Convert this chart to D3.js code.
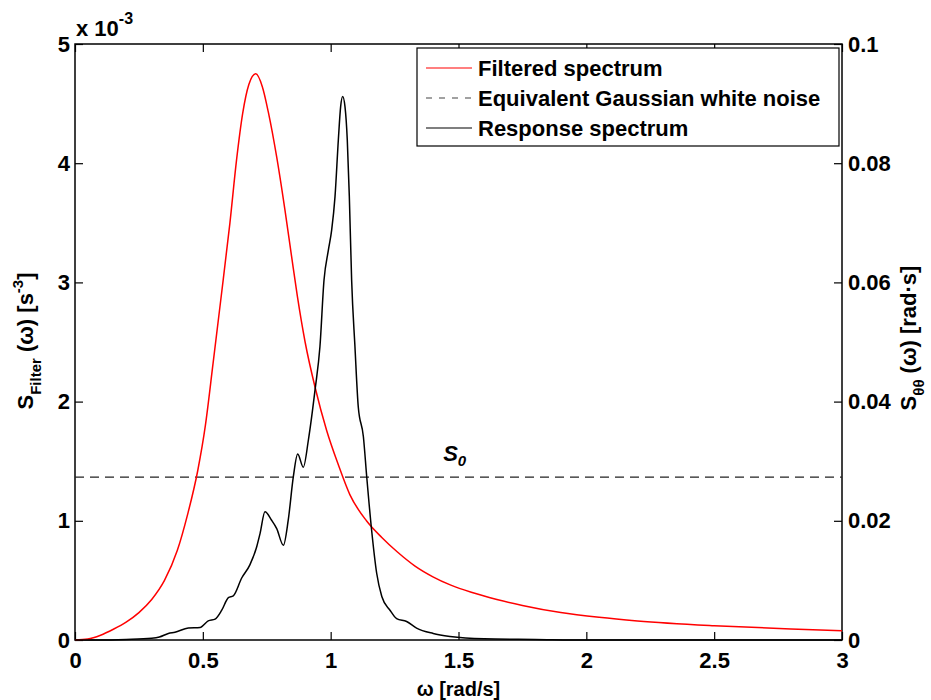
<!DOCTYPE html>
<html>
<head>
<meta charset="utf-8">
<script src="https://cdn.jsdelivr.net/npm/d3@7"></script>
<style>
  body { margin: 0; background: #fff; }
  svg text { font-family: "Liberation Sans", Arial, sans-serif; font-weight: bold; }
</style>
</head>
<body>
<div id="chart"></div>
<script>
// filtered spectrum (left axis, units of 1e-3 s^-3)
var filterW = [0, 0.05, 0.1, 0.15, 0.2, 0.25, 0.3, 0.35, 0.4, 0.44, 0.48, 0.51, 0.54, 0.57, 0.606, 0.632, 0.656, 0.68, 0.707, 0.733, 0.757, 0.789, 0.821, 0.847, 0.87, 0.9, 0.939, 0.984, 1.03, 1.075, 1.14, 1.2, 1.26, 1.33, 1.4, 1.47, 1.55, 1.65, 1.75, 1.9, 2.05, 2.2, 2.5, 2.8, 3.0]
var filterS = [0, 0.008, 0.04, 0.09, 0.15, 0.23, 0.34, 0.5, 0.75, 1.05, 1.42, 1.8, 2.32, 2.85, 3.5, 4.03, 4.42, 4.66, 4.75, 4.64, 4.42, 4.05, 3.61, 3.22, 2.88, 2.5, 2.12, 1.76, 1.47, 1.22, 1.0, 0.86, 0.74, 0.62, 0.53, 0.46, 0.40, 0.34, 0.29, 0.23, 0.19, 0.16, 0.12, 0.092, 0.078]

// response spectrum (right axis, rad^2 s)
var respW = [0, 0.1, 0.2, 0.3, 0.33, 0.365, 0.391, 0.443, 0.489, 0.521, 0.548, 0.574, 0.6, 0.619, 0.652, 0.684, 0.711, 0.724, 0.743, 0.769, 0.789, 0.815, 0.834, 0.854, 0.871, 0.893, 0.913, 0.939, 0.958, 0.974, 0.991, 1.004, 1.017, 1.03, 1.039, 1.047, 1.056, 1.065, 1.073, 1.082, 1.095, 1.108, 1.128, 1.141, 1.16, 1.18, 1.2, 1.232, 1.258, 1.297, 1.336, 1.401, 1.467, 1.6, 1.8, 2.0, 2.5, 3.0]
var respS = [0, 0, 0.0001, 0.0003, 0.0005, 0.0011, 0.0013, 0.002, 0.0021, 0.0032, 0.0035, 0.005, 0.0071, 0.0074, 0.0104, 0.0126, 0.0157, 0.0179, 0.0215, 0.0201, 0.0187, 0.0159, 0.0201, 0.0274, 0.0312, 0.029, 0.0336, 0.042, 0.0492, 0.0604, 0.0654, 0.0688, 0.0744, 0.0839, 0.0895, 0.0912, 0.0895, 0.0839, 0.0744, 0.0604, 0.0492, 0.0391, 0.0341, 0.0274, 0.0185, 0.0112, 0.0073, 0.005, 0.0036, 0.0031, 0.002, 0.0011, 0.0006, 0.0002, 0.0001, 0, 0, 0]

// equivalent white noise level S0 (1e-3 units)
var noiseLevel = 1.367

var xTicks = [0, 0.5, 1, 1.5, 2, 2.5, 3]
var leftTicks = [0, 1, 2, 3, 4, 5]
var rightTicks = [0, 0.02, 0.04, 0.06, 0.08, 0.1]

var legendLabels = ["Filtered spectrum", "Equivalent Gaussian white noise", "Response spectrum"]

var margin = {top: 44, right: 89, bottom: 60, left: 75},
    width = 931 - margin.left - margin.right,
    height = 700 - margin.top - margin.bottom;

var svg = d3.select("#chart")
    .append("svg")
    .attr("width", 931)
    .attr("height", 700)

var g = svg.append("g")
    .attr("transform", "translate(" + margin.left + "," + margin.top + ")")

var x = d3.scaleLinear().domain([0, 3]).range([0, width])
var yL = d3.scaleLinear().domain([0, 5]).range([height, 0])
var yR = d3.scaleLinear().domain([0, 0.1]).range([height, 0])

// axes, ticks pointing inward
g.append("g")
    .attr("transform", "translate(0," + height + ")")
    .call(d3.axisBottom(x).tickValues(xTicks).tickFormat(d3.format("")).tickSizeInner(-8).tickSizeOuter(0).tickPadding(12))
g.append("g")
    .call(d3.axisTop(x).tickValues(xTicks).tickFormat("").tickSizeInner(-8).tickSizeOuter(0))
g.append("g")
    .call(d3.axisLeft(yL).tickValues(leftTicks).tickFormat(d3.format("")).tickSizeInner(-8).tickSizeOuter(0).tickPadding(5))
g.append("g")
    .attr("transform", "translate(" + width + ",0)")
    .call(d3.axisRight(yR).tickValues(rightTicks).tickFormat(d3.format("")).tickSizeInner(-8).tickSizeOuter(0).tickPadding(6))

g.selectAll(".domain").remove()
g.selectAll(".tick line").attr("stroke", "#000").attr("stroke-width", 1.2)
g.selectAll(".tick text")
    .attr("fill", "#000")
    .style("font-size", "22px")

g.append("rect")
    .attr("width", width)
    .attr("height", height)
    .attr("fill", "none")
    .attr("stroke", "#000")
    .attr("stroke-width", 1.5)

// noise level
g.append("line")
    .attr("x1", 0).attr("x2", width)
    .attr("y1", yL(noiseLevel)).attr("y2", yL(noiseLevel))
    .attr("stroke", "#222")
    .attr("stroke-width", 1.2)
    .attr("stroke-dasharray", "9,6")

var s0 = g.append("text")
    .attr("x", x(1.44))
    .attr("y", yL(noiseLevel) - 16)
    .style("font-size", "22px")
    .style("font-style", "italic")
s0.append("tspan").text("S")
s0.append("tspan").attr("dy", 5).style("font-size", "15px").text("0")

// curves
var filterLine = d3.line()
    .curve(d3.curveMonotoneX)
    .x(function (d, i) { return x(filterW[i]) })
    .y(function (d) { return yL(d) })

var respLine = d3.line()
    .curve(d3.curveMonotoneX)
    .x(function (d, i) { return x(respW[i]) })
    .y(function (d) { return yR(d) })

g.append("path")
    .attr("d", filterLine(filterS))
    .attr("fill", "none")
    .attr("stroke", "#ff0000")
    .attr("stroke-width", 1.5)

g.append("path")
    .attr("d", respLine(respS))
    .attr("fill", "none")
    .attr("stroke", "#000")
    .attr("stroke-width", 1.5)

// legend
var legend = svg.append("g").attr("transform", "translate(417,48)")
legend.append("rect")
    .attr("width", 422).attr("height", 98)
    .attr("fill", "#fff")
    .attr("stroke", "#000")
    .attr("stroke-width", 1.2)

var legStroke = ["#ff0000", "#444", "#000"]
var legDash = [null, "6,7", null]
legendLabels.forEach(function (lab, i) {
    var yy = 20 + i * 30
    legend.append("line")
        .attr("x1", 9).attr("x2", 55)
        .attr("y1", yy).attr("y2", yy)
        .attr("stroke", legStroke[i])
        .attr("stroke-width", 1.2)
        .attr("stroke-dasharray", legDash[i])
    legend.append("text")
        .attr("x", 61).attr("y", yy + 8)
        .style("font-size", "22px")
        .text(lab)
})

// exponent note
var ex = svg.append("text")
    .attr("x", 76).attr("y", 36)
    .style("font-size", "22px")
ex.append("tspan").text("x 10")
ex.append("tspan").attr("dy", -12).style("font-size", "16px").text("-3")

// axis titles
svg.append("text")
    .attr("x", margin.left + width / 2)
    .attr("y", 696)
    .attr("text-anchor", "middle")
    .style("font-size", "20px")
    .text("ω [rad/s]")

var ly = svg.append("text")
    .attr("transform", "translate(33,341) rotate(-90)")
    .attr("text-anchor", "middle")
    .style("font-size", "22px")
ly.append("tspan").text("S")
ly.append("tspan").attr("dy", 8).style("font-size", "15px").text("Filter")
ly.append("tspan").attr("dy", -8).text(" (ω) [s")
ly.append("tspan").attr("dy", -10).style("font-size", "15px").text("-3")
ly.append("tspan").attr("dy", 10).text("]")

var ry = svg.append("text")
    .attr("transform", "translate(916,338) rotate(-90)")
    .attr("text-anchor", "middle")
    .style("font-size", "22px")
ry.append("tspan").text("S")
ry.append("tspan").attr("dy", 8).style("font-size", "15px").text("θθ")
ry.append("tspan").attr("dy", -8).text(" (ω) [rad·s]")
</script>
</body>
</html>
